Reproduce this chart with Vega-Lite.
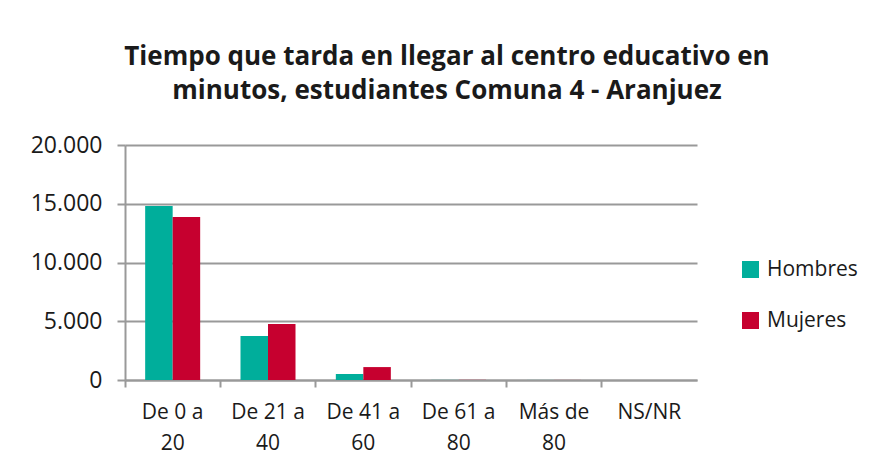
{
  "$schema": "https://vega.github.io/schema/vega-lite/v6.json",
  "width": 572,
  "height": 235,
  "autosize": {"type": "none"},
  "padding": {"left": 125, "top": 145, "right": 177, "bottom": 94},
  "background": "white",
  "title": {
    "text": ["Tiempo que tarda en llegar al centro educativo en", "minutos, estudiantes Comuna 4 - Aranjuez"],
    "font": "Open Sans",
    "fontSize": 26,
    "fontWeight": "bold",
    "color": "#1a1a1a",
    "lineHeight": 34,
    "anchor": "middle",
    "dx": 36,
    "offset": 30
  },
  "data": {
    "values": [
      {"rango": "De 0 a 20", "sexo": "Hombres", "n": 14800},
      {"rango": "De 0 a 20", "sexo": "Mujeres", "n": 13870},
      {"rango": "De 21 a 40", "sexo": "Hombres", "n": 3750},
      {"rango": "De 21 a 40", "sexo": "Mujeres", "n": 4770},
      {"rango": "De 41 a 60", "sexo": "Hombres", "n": 510},
      {"rango": "De 41 a 60", "sexo": "Mujeres", "n": 1100},
      {"rango": "De 61 a 80", "sexo": "Hombres", "n": 8},
      {"rango": "De 61 a 80", "sexo": "Mujeres", "n": 12},
      {"rango": "Más de 80", "sexo": "Hombres", "n": 4},
      {"rango": "Más de 80", "sexo": "Mujeres", "n": 5},
      {"rango": "NS/NR", "sexo": "Hombres", "n": 2},
      {"rango": "NS/NR", "sexo": "Mujeres", "n": 2}
    ]
  },
  "mark": {"type": "bar"},
  "encoding": {
    "x": {
      "field": "rango",
      "type": "nominal",
      "sort": null,
      "scale": {"paddingInner": 0, "paddingOuter": 0},
      "axis": {
        "title": null,
        "labelAngle": 0,
        "labelFont": "Open Sans",
        "labelFontSize": 21,
        "labelColor": "#1a1a1a",
        "labelLineHeight": 31,
        "labelPadding": 14,
        "labelExpr": "datum.value == 'NS/NR' ? 'NS/NR' : [slice(datum.value, 0, lastindexof(datum.value, ' ')), slice(datum.value, lastindexof(datum.value, ' ') + 1)]",
        "bandPosition": 0,
        "tickColor": "#999999",
        "tickWidth": 2,
        "tickSize": 7,
        "domainColor": "#999999",
        "domainWidth": 2,
        "grid": false
      }
    },
    "xOffset": {
      "field": "sexo",
      "type": "nominal",
      "scale": {"paddingInner": 0, "paddingOuter": 0.733}
    },
    "y": {
      "field": "n",
      "type": "quantitative",
      "scale": {"domain": [0, 20000]},
      "axis": {
        "title": null,
        "values": [0, 5000, 10000, 15000, 20000],
        "labelExpr": "replace(format(datum.value, ','), ',', '.')",
        "labelFont": "Open Sans",
        "labelFontSize": 23,
        "labelColor": "#1a1a1a",
        "labelPadding": 15,
        "tickColor": "#999999",
        "tickWidth": 2,
        "tickSize": 8,
        "domainColor": "#999999",
        "domainWidth": 2,
        "gridColor": "#999999",
        "gridWidth": 2
      }
    },
    "color": {
      "field": "sexo",
      "type": "nominal",
      "scale": {"domain": ["Hombres", "Mujeres"], "range": ["#00AE9B", "#C6002F"]},
      "legend": {
        "title": null,
        "orient": "none",
        "legendX": 615,
        "legendY": 114,
        "symbolType": "square",
        "symbolSize": 289,
        "symbolStrokeWidth": 0,
        "labelFont": "Open Sans",
        "labelFontSize": 21,
        "labelColor": "#1a1a1a",
        "rowPadding": 29,
        "labelOffset": 6
      }
    }
  },
  "config": {"view": {"stroke": null}}
}
